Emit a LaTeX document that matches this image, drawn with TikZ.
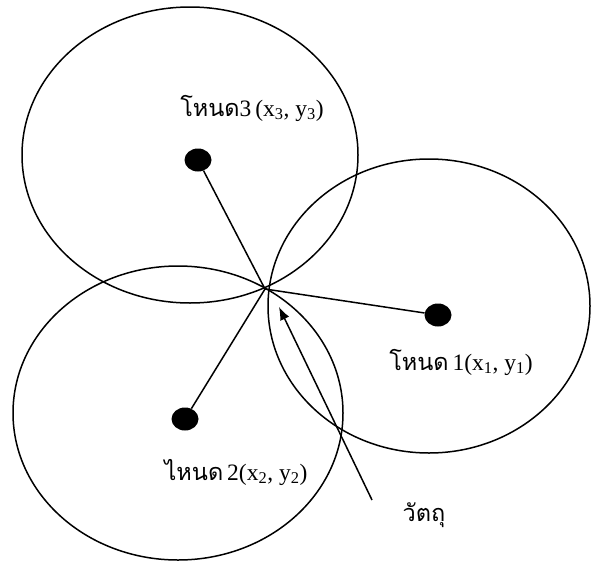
\documentclass[tikz,border=0pt]{standalone}
\usepackage{fontspec}
\setmainfont{Liberation Serif}
\newfontfamily\thaifont[Script=Thai]{Loma}
\usetikzlibrary{arrows.meta,shapes.geometric}
\tikzset{
  rangeline/.style={line width=1.5pt, black},
  nodedot/.style={ellipse, fill=black, minimum width=27pt, minimum height=23pt, inner sep=0pt},
  link/.style={line width=1.5pt, black},
  lbl/.style={font=\fontsize{23.5}{27}\selectfont, inner sep=0pt, text=black},
}
\begin{document}
\begin{tikzpicture}[x=1pt,y=-1pt]
\useasboundingbox (0,0) rectangle (591,562);
% range ellipses
\draw[rangeline] (190,155) ellipse [x radius=168pt, y radius=148pt];
\draw[rangeline] (429,306) ellipse [x radius=161pt, y radius=147pt];
\draw[rangeline] (178,413) ellipse [x radius=165pt, y radius=147pt];
% nodes
\node[nodedot] (d3) at (198,160) {};
\node[nodedot] (d1) at (438,315) {};
\node[nodedot] (d2) at (185,419) {};
\coordinate (P) at (265,289);
\draw[link] (d3) -- (P);
\draw[link] (d1) -- (P);
\draw[link] (d2) -- (P);
% object arrow
\coordinate (tail) at (372,500);
\coordinate (tip) at (279,307);
\draw[link, -{Latex[length=13pt,width=10pt]}] (tail) -- (tip);
% labels
\node[lbl] (l3) at (252,108) {{\thaifont โหนด}3\,(x\textsubscript{3}, y\textsubscript{3})};
\node[lbl] (l1) at (461,362) {{\thaifont โหนด}\,1(x\textsubscript{1}, y\textsubscript{1})};
\node[lbl] (l2) at (236,472) {{\thaifont ไหนด}\,2(x\textsubscript{2}, y\textsubscript{2})};
\node[lbl] (obj) at (424,515) {\thaifont วัตถุ};
\end{tikzpicture}
\end{document}
